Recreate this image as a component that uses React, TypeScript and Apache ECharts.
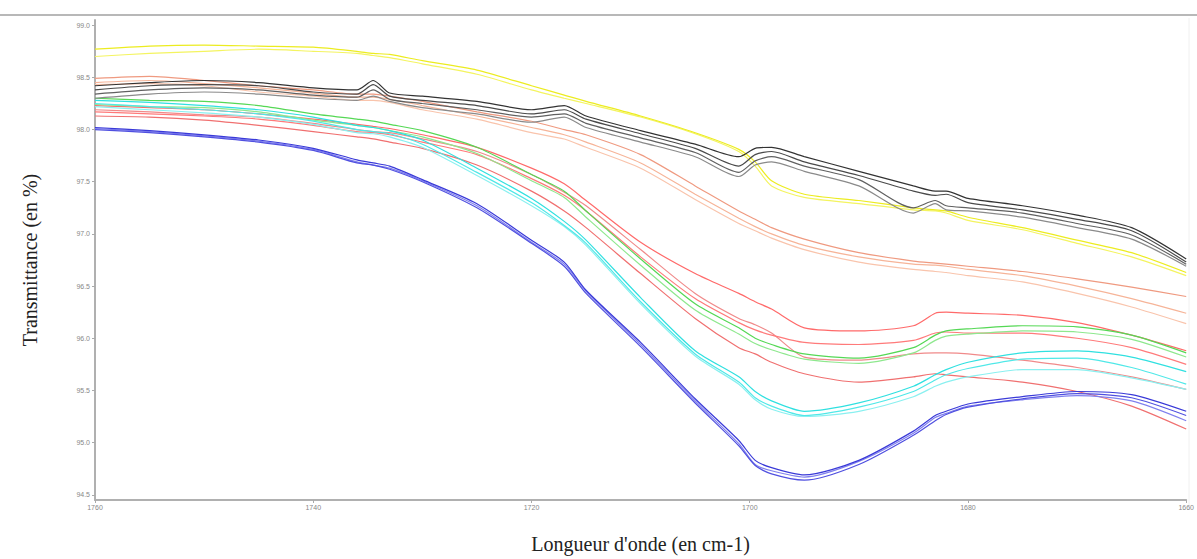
import React, { useEffect, useRef } from "react";
import * as echarts from "echarts";

const wavenumbers = [1760, 1755, 1750, 1745, 1740, 1736, 1734.5, 1733, 1730, 1725, 1720, 1717, 1715, 1710, 1705, 1701, 1699.5, 1698, 1695, 1690, 1685, 1683, 1682, 1680, 1675, 1670, 1665, 1660];

const yellow1 = [98.77, 98.80, 98.81, 98.80, 98.79, 98.75, 98.73, 98.72, 98.66, 98.57, 98.42, 98.33, 98.27, 98.13, 97.97, 97.81, 97.69, 97.51, 97.38, 97.32, 97.25, 97.23, 97.22, 97.16, 97.06, 96.94, 96.82, 96.63];
const yellow2 = [98.70, 98.73, 98.75, 98.77, 98.75, 98.73, 98.71, 98.69, 98.63, 98.53, 98.38, 98.30, 98.25, 98.12, 97.96, 97.79, 97.65, 97.46, 97.35, 97.29, 97.23, 97.22, 97.20, 97.13, 97.04, 96.91, 96.78, 96.60];

const black1 = [98.42, 98.45, 98.47, 98.45, 98.40, 98.38, 98.47, 98.35, 98.32, 98.27, 98.19, 98.23, 98.13, 97.99, 97.86, 97.74, 97.82, 97.83, 97.74, 97.60, 97.46, 97.41, 97.41, 97.34, 97.27, 97.18, 97.06, 96.76];
const black2 = [98.38, 98.42, 98.43, 98.42, 98.36, 98.34, 98.43, 98.32, 98.28, 98.23, 98.15, 98.19, 98.10, 97.96, 97.82, 97.65, 97.76, 97.79, 97.69, 97.56, 97.41, 97.37, 97.38, 97.30, 97.23, 97.14, 97.03, 96.73];
const black3 = [98.34, 98.38, 98.40, 98.38, 98.33, 98.31, 98.38, 98.29, 98.25, 98.19, 98.12, 98.15, 98.06, 97.92, 97.78, 97.59, 97.70, 97.74, 97.65, 97.52, 97.25, 97.32, 97.27, 97.25, 97.20, 97.10, 96.99, 96.71];
const black4 = [98.30, 98.34, 98.36, 98.34, 98.30, 98.28, 98.32, 98.27, 98.21, 98.15, 98.07, 98.12, 98.02, 97.88, 97.74, 97.55, 97.66, 97.69, 97.60, 97.46, 97.20, 97.29, 97.23, 97.22, 97.16, 97.06, 96.95, 96.69];

const salmon1 = [98.49, 98.51, 98.47, 98.42, 98.38, 98.34, 98.34, 98.32, 98.27, 98.17, 98.08, 98.00, 97.95, 97.76, 97.46, 97.22, 97.14, 97.06, 96.95, 96.82, 96.74, 96.72, 96.71, 96.69, 96.64, 96.57, 96.49, 96.40];
const salmon2 = [98.45, 98.47, 98.44, 98.40, 98.35, 98.31, 98.31, 98.29, 98.23, 98.13, 98.02, 97.95, 97.88, 97.68, 97.38, 97.15, 97.07, 97.00, 96.89, 96.78, 96.71, 96.70, 96.69, 96.66, 96.60, 96.50, 96.38, 96.24];
const salmon3 = [98.43, 98.44, 98.42, 98.36, 98.32, 98.28, 98.28, 98.26, 98.19, 98.10, 97.97, 97.91, 97.83, 97.63, 97.33, 97.10, 97.03, 96.96, 96.85, 96.73, 96.66, 96.64, 96.63, 96.60, 96.54, 96.43, 96.30, 96.14];

const green1 = [98.30, 98.28, 98.27, 98.23, 98.15, 98.10, 98.08, 98.05, 97.99, 97.83, 97.57, 97.41, 97.22, 96.76, 96.33, 96.10, 96.00, 95.94, 95.85, 95.81, 95.91, 96.03, 96.07, 96.09, 96.12, 96.11, 96.03, 95.86];
const green2 = [98.24, 98.22, 98.21, 98.17, 98.09, 98.04, 98.02, 97.99, 97.93, 97.77, 97.51, 97.35, 97.16, 96.70, 96.27, 96.04, 95.95, 95.89, 95.80, 95.76, 95.86, 95.98, 96.02, 96.04, 96.07, 96.06, 95.99, 95.82];

const redA = [98.23, 98.21, 98.19, 98.15, 98.10, 98.05, 98.03, 98.01, 97.95, 97.83, 97.63, 97.48, 97.32, 96.92, 96.62, 96.43, 96.35, 96.28, 96.10, 96.07, 96.12, 96.24, 96.25, 96.24, 96.22, 96.15, 96.03, 95.88];
const redB = [98.17, 98.15, 98.13, 98.10, 98.04, 97.98, 97.97, 97.95, 97.88, 97.76, 97.53, 97.37, 97.22, 96.78, 96.38, 96.15, 96.08, 96.03, 95.96, 95.94, 95.98, 96.05, 96.06, 96.05, 96.05, 96.00, 95.91, 95.75];
const redC = [98.13, 98.12, 98.09, 98.04, 97.98, 97.93, 97.91, 97.88, 97.82, 97.66, 97.41, 97.22, 97.06, 96.62, 96.19, 95.91, 95.85, 95.77, 95.66, 95.58, 95.63, 95.66, 95.65, 95.63, 95.58, 95.49, 95.35, 95.13];
const redD = [98.19, 98.17, 98.14, 98.12, 98.06, 98.00, 97.98, 97.97, 97.91, 97.79, 97.57, 97.40, 97.27, 96.85, 96.43, 96.19, 96.13, 96.05, 95.82, 95.79, 95.85, 95.86, 95.86, 95.85, 95.79, 95.72, 95.63, 95.51];

const cyan1 = [98.28, 98.26, 98.23, 98.19, 98.12, 98.04, 98.02, 97.99, 97.90, 97.63, 97.34, 97.12, 96.94, 96.39, 95.88, 95.63, 95.49, 95.40, 95.30, 95.38, 95.54, 95.65, 95.70, 95.77, 95.86, 95.88, 95.82, 95.68];
const cyan2 = [98.25, 98.22, 98.19, 98.15, 98.08, 98.00, 97.98, 97.96, 97.86, 97.59, 97.30, 97.08, 96.91, 96.35, 95.85, 95.58, 95.43, 95.35, 95.26, 95.34, 95.49, 95.60, 95.65, 95.71, 95.80, 95.81, 95.72, 95.56];
const cyan3 = [98.22, 98.19, 98.16, 98.12, 98.05, 97.97, 97.96, 97.93, 97.83, 97.56, 97.27, 97.07, 96.89, 96.33, 95.83, 95.56, 95.41, 95.32, 95.25, 95.30, 95.44, 95.54, 95.58, 95.63, 95.70, 95.70, 95.62, 95.51];

const blue1 = [98.02, 97.99, 97.95, 97.90, 97.82, 97.71, 97.68, 97.65, 97.52, 97.29, 96.94, 96.73, 96.46, 95.96, 95.42, 95.02, 94.83, 94.76, 94.69, 94.83, 95.11, 95.26, 95.30, 95.37, 95.44, 95.49, 95.46, 95.30];
const blue2 = [98.00, 97.97, 97.93, 97.88, 97.80, 97.68, 97.66, 97.62, 97.50, 97.25, 96.91, 96.69, 96.43, 95.92, 95.38, 94.97, 94.78, 94.70, 94.64, 94.79, 95.07, 95.21, 95.27, 95.34, 95.42, 95.47, 95.43, 95.26];
const blue3 = [98.01, 97.98, 97.94, 97.89, 97.81, 97.69, 97.66, 97.63, 97.51, 97.27, 96.92, 96.71, 96.45, 95.94, 95.40, 94.99, 94.79, 94.73, 94.67, 94.82, 95.09, 95.24, 95.28, 95.35, 95.41, 95.45, 95.40, 95.21];

const yTickValues = [94.45, 94.5, 95.0, 95.5, 96.0, 96.5, 97.0, 97.5, 98.0, 98.5, 99.0, 99.05];
const xTickValues = [1760, 1740, 1720, 1700, 1680, 1660];

const curves: { name: string; values: number[]; color: string }[] = [
  { name: "salmon3", values: salmon3, color: "#f9c4ac" },
  { name: "salmon2", values: salmon2, color: "#f6b498" },
  { name: "salmon1", values: salmon1, color: "#ef9a80" },
  { name: "redD", values: redD, color: "#f08a8a" },
  { name: "redC", values: redC, color: "#f07070" },
  { name: "redB", values: redB, color: "#ff7a7a" },
  { name: "redA", values: redA, color: "#ff6a6a" },
  { name: "green2", values: green2, color: "#8ee88e" },
  { name: "green1", values: green1, color: "#55d855" },
  { name: "cyan3", values: cyan3, color: "#8af0f0" },
  { name: "cyan2", values: cyan2, color: "#50e8e8" },
  { name: "cyan1", values: cyan1, color: "#30e0e0" },
  { name: "blue3", values: blue3, color: "#8080ee" },
  { name: "blue2", values: blue2, color: "#5050e0" },
  { name: "blue1", values: blue1, color: "#3a3ad8" },
  { name: "yellow2", values: yellow2, color: "#f4f460" },
  { name: "yellow1", values: yellow1, color: "#ecec20" },
  { name: "black4", values: black4, color: "#8a8a8a" },
  { name: "black3", values: black3, color: "#606060" },
  { name: "black2", values: black2, color: "#4a4a4a" },
  { name: "black1", values: black1, color: "#333333" },
];

export default function App() {
  const ref = useRef<HTMLDivElement>(null);
  useEffect(() => {
    if (!ref.current) return;
    const chart = echarts.init(ref.current, null, { renderer: "svg" });
    const serif = "'Liberation Serif', 'DejaVu Serif', serif";
    chart.setOption({
      animation: false,
      backgroundColor: "#ffffff",
      grid: { left: 95, right: 9, top: 20, bottom: 48, containLabel: false },
      xAxis: {
        type: "value",
        min: 1660,
        max: 1760,
        inverse: true,
        interval: 20,
        name: "Longueur d'onde (en cm-1)",
        nameLocation: "middle",
        nameGap: 34,
        nameTextStyle: { fontFamily: serif, fontSize: 20, color: "#222" },
        axisLine: { show: true, lineStyle: { color: "#b0b0b0", width: 2 } },
        axisTick: { show: true, length: 3, lineStyle: { color: "#aaa" } },
        axisLabel: {
          fontSize: 7,
          color: "#888",
          margin: 4,
          customValues: xTickValues,
          formatter: (v: number) => String(v),
        },
        splitLine: { show: false },
      },
      yAxis: {
        type: "value",
        min: 94.45,
        max: 99.05,
        name: "Transmittance (en %)",
        nameLocation: "middle",
        nameGap: 55,
        nameTextStyle: { fontFamily: serif, fontSize: 20, color: "#222" },
        axisLine: { show: true, lineStyle: { color: "#b0b0b0", width: 2 } },
        axisTick: { show: true, length: 3, lineStyle: { color: "#aaa" }, customValues: yTickValues },
        axisLabel: {
          fontSize: 7,
          color: "#888",
          margin: 5,
          customValues: yTickValues,
          formatter: (v: number) => v.toFixed(1),
        },
        splitLine: { show: false },
      },
      graphic: [
        {
          type: "line",
          shape: { x1: 0, y1: 15, x2: 1197, y2: 15 },
          style: { stroke: "#b8b8b8", lineWidth: 2 },
        },
        {
          type: "line",
          shape: { x1: 1189, y1: 18, x2: 1189, y2: 510 },
          style: { stroke: "#f0f0f0", lineWidth: 1 },
        },
      ],
      series: curves.map((c) => ({
        name: c.name,
        type: "line",
        showSymbol: false,
        smooth: 0.25,
        data: wavenumbers.map((w, i) => [w, c.values[i]]),
        lineStyle: { color: c.color, width: 1.2 },
        itemStyle: { color: c.color },
      })),
    });
    return () => chart.dispose();
  }, []);
  return (
    <div
      ref={ref}
      style={{ position: "fixed", left: 0, top: 0, width: 1197, height: 559 }}
    />
  );
}
